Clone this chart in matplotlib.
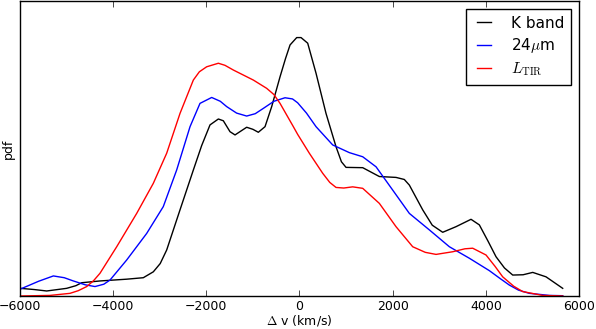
import numpy as np
import matplotlib
matplotlib.use("Agg")
import matplotlib.pyplot as plt

plt.style.use("classic")

# K band
k_v = [-6000, -5700, -5427, -4998, -4800, -4675, -4283, -3710, -3353, -3138,
       -2990, -2851, -2565, -2279, -2100, -1921, -1742, -1635, -1492, -1384,
       -1250, -1134, -1000, -884, -740, -597, -418, -300, -203, -60, 33, 176,
       355, 569, 784, 900, 999, 1357, 1714, 2072, 2250, 2358, 2645, 2850, 3074,
       3360, 3682, 3861, 4050, 4219, 4400, 4577, 4800, 5007, 5292, 5650]
k_pdf = [0.026, 0.022, 0.017, 0.026, 0.035, 0.045, 0.051, 0.057, 0.062, 0.082,
         0.110, 0.156, 0.292, 0.427, 0.510, 0.580, 0.600, 0.594, 0.557, 0.546,
         0.560, 0.572, 0.565, 0.555, 0.574, 0.642, 0.743, 0.805, 0.851, 0.876,
         0.876, 0.857, 0.755, 0.619, 0.506, 0.455, 0.436, 0.435, 0.405, 0.402,
         0.395, 0.376, 0.292, 0.240, 0.216, 0.235, 0.260, 0.241, 0.185, 0.133,
         0.095, 0.071, 0.072, 0.080, 0.065, 0.026]

# 24 micron
m24_v = [-6000, -5600, -5284, -5050, -4855, -4600, -4390, -4200, -4068, -3710,
         -3281, -2924, -2637, -2350, -2136, -1885, -1700, -1563, -1350, -1134,
         -950, -776, -550, -311, -150, -40, 150, 355, 713, 1070, 1357, 1643,
         2001, 2358, 2788, 3217, 3646, 4075, 4300, 4505, 4700, 4934, 5363, 5650]
m24_pdf = [0.023, 0.050, 0.068, 0.062, 0.051, 0.038, 0.032, 0.040, 0.054, 0.122,
           0.212, 0.303, 0.427, 0.574, 0.653, 0.673, 0.660, 0.642, 0.620, 0.610,
           0.618, 0.636, 0.660, 0.672, 0.668, 0.655, 0.620, 0.574, 0.512, 0.486,
           0.472, 0.438, 0.359, 0.280, 0.224, 0.167, 0.128, 0.086, 0.060, 0.037,
           0.020, 0.009, 0.002, 0.001]

# L_TIR
tir_v = [-6000, -5355, -4927, -4750, -4568, -4420, -4283, -3924, -3495, -3138,
         -2851, -2565, -2279, -2150, -1993, -1742, -1600, -1420, -991, -705,
         -550, -418, -132, -40, 211, 498, 650, 784, 950, 1142, 1357, 1714, 2072,
         2430, 2700, 2931, 3289, 3550, 3718, 4004, 4200, 4362, 4600, 4791, 5221,
         5650]
tir_pdf = [0.0, 0.002, 0.009, 0.018, 0.032, 0.052, 0.077, 0.167, 0.280, 0.382,
           0.484, 0.619, 0.732, 0.760, 0.777, 0.789, 0.782, 0.766, 0.732, 0.704,
           0.683, 0.653, 0.574, 0.548, 0.484, 0.416, 0.385, 0.368, 0.366, 0.370,
           0.365, 0.314, 0.235, 0.167, 0.148, 0.141, 0.150, 0.160, 0.162, 0.139,
           0.100, 0.065, 0.033, 0.015, 0.002, 0.0]

fig = plt.figure(figsize=(5.96, 3.29), dpi=100, facecolor="white")
ax = fig.add_axes([20 / 596, 33 / 329, 559 / 596, 295 / 329])

ax.plot(k_v, k_pdf, color="black", lw=1.0, label="K band")
ax.plot(m24_v, m24_pdf, color="blue", lw=1.0, label=r"24$\mu$m")
ax.plot(tir_v, tir_pdf, color="red", lw=1.0, label=r"$L_{\rm TIR}$")

ax.set_xlim(-6000, 6000)
ax.set_ylim(0, 1.0)
ax.set_xticks(np.arange(-6000, 6001, 2000))
ax.set_yticks([])
ax.tick_params(axis="x", labelsize=9, pad=3)
ax.set_xlabel(r"$\Delta$ v (km/s)", fontsize=9, labelpad=0)
ax.set_ylabel("pdf", fontsize=9, labelpad=4)

leg = ax.legend(loc="upper right", fontsize=11, handlelength=1.5,
                handletextpad=1.0, labelspacing=0.35, borderpad=0.45)
leg.get_frame().set_linewidth(1.0)

fig.savefig("out.png", dpi=100, facecolor="white")
